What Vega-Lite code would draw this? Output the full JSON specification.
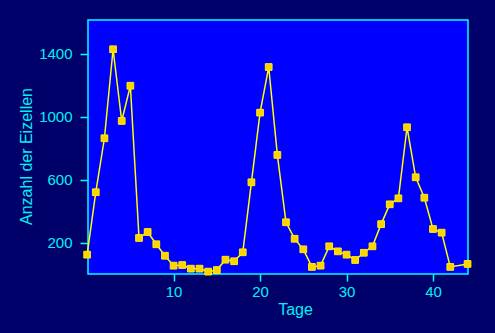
{
  "$schema": "https://vega.github.io/schema/vega-lite/v6.json",
  "autosize": {"type": "none"},
  "width": 380,
  "height": 254,
  "padding": {"left": 88, "top": 20, "right": 27, "bottom": 59},
  "background": "#00006A",
  "config": {
    "view": {"fill": "#0000FF", "stroke": "#00FFFF", "strokeWidth": 1.5},
    "font": "Liberation Sans",
    "axis": {
      "domain": false,
      "grid": false,
      "tickColor": "#00FFFF",
      "labelColor": "#00F0F0",
      "titleColor": "#00F0F0",
      "labelFont": "Liberation Sans",
      "titleFont": "Liberation Sans",
      "labelFontSize": 15,
      "titleFontSize": 16,
      "titleFontWeight": "normal",
      "tickSize": 7,
      "tickWidth": 1.5
    }
  },
  "data": {
    "values": [
      {"tag": 0, "anzahl": 123},
      {"tag": 1, "anzahl": 520},
      {"tag": 2, "anzahl": 863},
      {"tag": 3, "anzahl": 1429},
      {"tag": 4, "anzahl": 973},
      {"tag": 5, "anzahl": 1197},
      {"tag": 6, "anzahl": 229},
      {"tag": 7, "anzahl": 267},
      {"tag": 8, "anzahl": 189},
      {"tag": 9, "anzahl": 116},
      {"tag": 10, "anzahl": 53},
      {"tag": 11, "anzahl": 57},
      {"tag": 12, "anzahl": 34},
      {"tag": 13, "anzahl": 34},
      {"tag": 14, "anzahl": 15},
      {"tag": 15, "anzahl": 25},
      {"tag": 16, "anzahl": 91},
      {"tag": 17, "anzahl": 81},
      {"tag": 18, "anzahl": 138},
      {"tag": 19, "anzahl": 583},
      {"tag": 20, "anzahl": 1026},
      {"tag": 21, "anzahl": 1316},
      {"tag": 22, "anzahl": 757},
      {"tag": 23, "anzahl": 329},
      {"tag": 24, "anzahl": 224},
      {"tag": 25, "anzahl": 157},
      {"tag": 26, "anzahl": 45},
      {"tag": 27, "anzahl": 53},
      {"tag": 28, "anzahl": 176},
      {"tag": 29, "anzahl": 144},
      {"tag": 30, "anzahl": 123},
      {"tag": 31, "anzahl": 89},
      {"tag": 32, "anzahl": 135},
      {"tag": 33, "anzahl": 176},
      {"tag": 34, "anzahl": 317},
      {"tag": 35, "anzahl": 443},
      {"tag": 36, "anzahl": 481},
      {"tag": 37, "anzahl": 933},
      {"tag": 38, "anzahl": 615},
      {"tag": 39, "anzahl": 485},
      {"tag": 40, "anzahl": 286},
      {"tag": 41, "anzahl": 263},
      {"tag": 42, "anzahl": 45},
      {"tag": 44, "anzahl": 64}
    ]
  },
  "encoding": {
    "x": {
      "field": "tag",
      "type": "quantitative",
      "scale": {"domain": [0.1, 44.05], "nice": false, "zero": false},
      "axis": {"values": [10, 20, 30, 40], "format": "d", "title": "Tage", "labelPadding": 3, "titlePadding": 2, "titleX": 207}
    },
    "y": {
      "field": "anzahl",
      "type": "quantitative",
      "scale": {"domain": [0, 1615], "nice": false},
      "axis": {"values": [200, 600, 1000, 1400], "format": "d", "title": "Anzahl der Eizellen", "tickSize": 8, "labelPadding": 8, "titlePadding": 4, "titleY": 136}
    }
  },
  "layer": [
    {"mark": {"type": "line", "color": "#FFFF00", "strokeWidth": 1.5, "clip": false}},
    {"mark": {"type": "square", "filled": true, "color": "#FFD200", "stroke": "#FFEE00", "strokeWidth": 1, "size": 45, "opacity": 1, "clip": false}}
  ]
}
